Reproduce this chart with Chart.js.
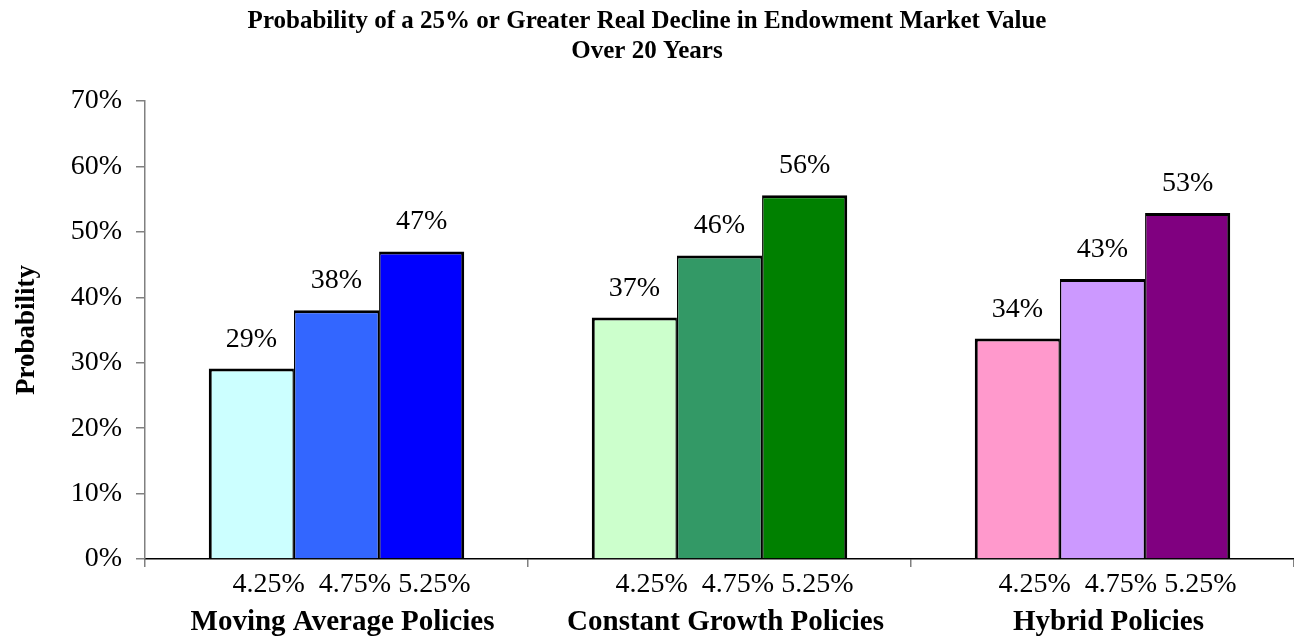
<!DOCTYPE html>
<html>
<head>
<meta charset="utf-8">
<title>Probability of a 25% or Greater Real Decline</title>
<script src="https://cdn.jsdelivr.net/npm/chart.js@4/dist/chart.umd.min.js"></script>
<style>
  html, body { margin: 0; padding: 0; background: #fff; overflow: hidden; }
  #chart { display: block; }
</style>
</head>
<body>
<canvas id="chart" width="1294" height="639"></canvas>
<script>
const groups = ["Moving Average Policies", "Constant Growth Policies", "Hybrid Policies"];
const rates = ["4.25%", "4.75%", "5.25%"];

// probability per spending rate, one value per policy group
const rate425 = [0.291, 0.369, 0.337];
const rate475 = [0.380, 0.464, 0.428];
const rate525 = [0.470, 0.556, 0.529];

const colors425 = ["#CCFFFF", "#CCFFCC", "#FF99CC"];
const colors475 = ["#3366FF", "#339966", "#CC99FF"];
const colors525 = ["#0000FF", "#008000", "#800080"];

const yTicks = [0, 0.1, 0.2, 0.3, 0.4, 0.5, 0.6, 0.7];

const serif = "'Liberation Serif', 'Times New Roman', serif";
const pct = v => Math.round(v * 100) + "%";

// percentages above each bar
const barLabels = {
  id: "barLabels",
  afterDatasetsDraw(chart) {
    const ctx = chart.ctx;
    ctx.save();
    ctx.font = "28px " + serif;
    ctx.fillStyle = "#000";
    ctx.textAlign = "center";
    ctx.textBaseline = "alphabetic";
    chart.data.datasets.forEach((ds, i) => {
      chart.getDatasetMeta(i).data.forEach((bar, j) => {
        ctx.fillText(pct(ds.data[j]), bar.x, bar.y - 22);
      });
    });
    ctx.restore();
  }
};

const makeSet = (label, data, bg, side) => ({
  label: label,
  data: data,
  backgroundColor: bg,
  borderColor: "#000",
  borderWidth: side,
  borderSkipped: false
});

new Chart(document.getElementById("chart"), {
  type: "bar",
  plugins: [barLabels],
  data: {
    labels: groups,
    datasets: [
      makeSet(rates[0], rate425, colors425, { left: 3, right: 1.5, top: 3, bottom: 0 }),
      makeSet(rates[1], rate475, colors475, { left: 1.5, right: 1.5, top: 3, bottom: 0 }),
      makeSet(rates[2], rate525, colors525, { left: 1.5, right: 3, top: 3, bottom: 0 })
    ]
  },
  options: {
    responsive: false,
    animation: false,
    layout: { padding: 0 },
    datasets: {
      bar: { categoryPercentage: 0.667, barPercentage: 1.0 }
    },
    plugins: {
      legend: { display: false },
      tooltip: { enabled: false },
      title: {
        display: true,
        text: ["Probability of a 25% or Greater Real Decline in Endowment Market Value", "Over 20 Years"],
        color: "#000",
        font: { family: serif, size: 25, weight: "bold", lineHeight: 1.2 },
        padding: { top: 7, bottom: 34 }
      }
    },
    scales: {
      x: {
        type: "category",
        position: "bottom",
        weight: 0,
        afterFit: scale => { scale.height = 41; },
        border: { display: true, color: "#000", width: 1.5 },
        grid: { drawOnChartArea: false, drawTicks: true, tickLength: 8, color: "#808080", lineWidth: 1.5, offset: true },
        ticks: {
          color: "#000",
          font: { family: serif, size: 28, lineHeight: 1.1 },
          padding: 2,
          labelOffset: 15,
          autoSkip: false,
          maxRotation: 0,
          callback: () => rates[0] + "  " + rates[1] + " " + rates[2]
        }
      },
      x2: {
        type: "category",
        position: "bottom",
        weight: 1,
        afterFit: scale => { scale.height = 39; },
        border: { display: false },
        grid: { display: false, drawTicks: false },
        ticks: {
          color: "#000",
          font: { family: serif, size: 29, weight: "bold", lineHeight: 1.0 },
          padding: 8,
          labelOffset: 6,
          autoSkip: false,
          maxRotation: 0,
          callback: (v, i) => groups[i]
        }
      },
      y: {
        min: 0,
        max: 0.7,
        afterBuildTicks: scale => { scale.ticks = yTicks.map(v => ({ value: v })); },
        afterFit: scale => { scale.width = 145; },
        border: { display: true, color: "#808080", width: 1.5 },
        grid: { drawOnChartArea: false, drawTicks: true, tickLength: 9, color: "#808080", lineWidth: 1.5 },
        ticks: {
          color: "#000",
          font: { family: serif, size: 28 },
          padding: 14,
          callback: v => pct(v)
        },
        title: {
          display: true,
          text: "Probability",
          color: "#000",
          font: { family: serif, size: 27, weight: "bold", lineHeight: 1.2 },
          padding: { top: 11, bottom: 0 }
        }
      }
    }
  }
});
</script>
</body>
</html>
